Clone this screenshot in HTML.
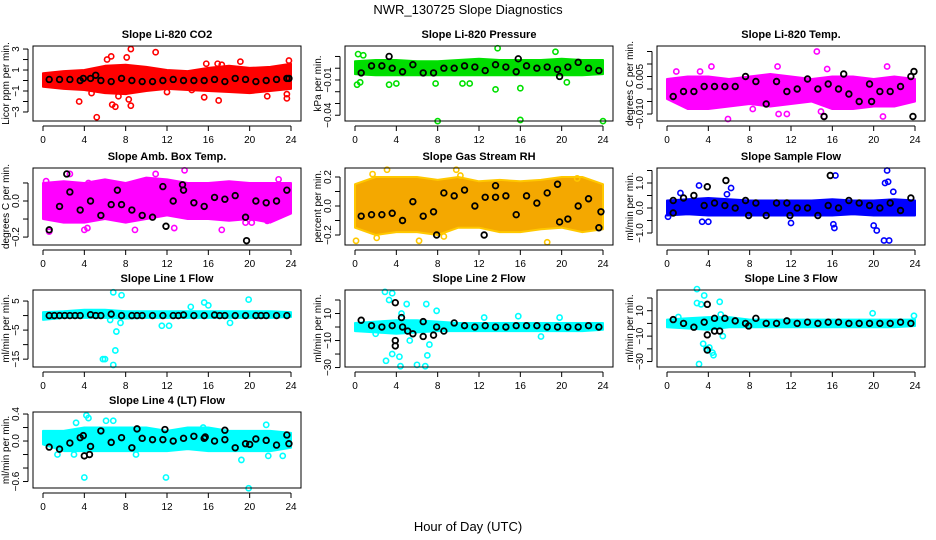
<!DOCTYPE html>
<html><head><meta charset="utf-8">
<style>
html,body{margin:0;padding:0;background:#fff;}
svg{display:block;font-family:"Liberation Sans",Arial,sans-serif;}
</style></head>
<body>
<svg id="chart" width="936" height="540" viewBox="0 0 936 540" xmlns="http://www.w3.org/2000/svg">
<text x="468" y="14" text-anchor="middle" font-size="13">NWR_130725  Slope Diagnostics</text>
<text x="468" y="531" text-anchor="middle" font-size="13">Hour of Day (UTC)</text>
</svg>
<script>
// ---- shared data ----
const xTicks = [0,4,8,12,16,20,24];
const bandHours = [0,2,4,6,8,10,12,14,16,18,20,22,24];
const blackHours = [0.6,1.6,2.6,3.6,4.6,5.6,6.6,7.6,8.6,9.6,10.6,11.6,12.6,13.6,14.6,15.6,16.6,17.6,18.6,19.6,20.6,21.6,22.6,23.6];

// ---- CO2 ----
const co2Lo = [-0.6,-0.8,-0.9,-1.2,-1.3,-1.0,-0.8,-0.9,-1.0,-1.1,-1.2,-1.0,-0.8];
const co2Hi = [0.7,0.9,1.0,1.4,1.5,1.3,1.0,0.9,1.2,1.4,1.2,1.3,1.6];
const co2Out = [[5.2,-3.5],[3.5,-2],[6.7,-2.3],[7.0,-2.5],[8.5,-2.4],[8.5,3.0],[8.1,2.2],[6.2,2.0],[6.6,2.3],[10.9,2.7],[19.1,1.8],[15.8,1.6],[16.9,1.6],[17.3,1.5],[17.0,-1.9],[15.6,-1.6],[23.6,-1.7],[23.6,-1.3],[23.8,1.9],[4.7,-1.2],[7.3,-1.5],[8.3,-1.8],[12.0,-1.1],[21.7,-1.5],[14.4,-0.9]];
const co2Black = [0.1,0.1,0.1,0.0,0.2,0.0,-0.1,0.2,0.0,-0.1,-0.1,0.0,0.1,0.0,0.0,0.0,0.1,-0.1,0.2,0.1,-0.1,0.0,0.1,0.2];
const co2BlackExtra = [[3.9,0.2],[5.1,0.5],[23.8,0.2]];
const co2Ticks = [-3,-2,-1,0,1,2,3];
const co2Labels = [-3,-1,1,3];

// ---- Pressure ----
const prLo = [-0.005,-0.006,-0.006,-0.006,-0.006,-0.006,-0.006,-0.006,-0.006,-0.006,-0.006,-0.006,-0.005];
const prHi = [0.006,0.007,0.007,0.006,0.006,0.007,0.008,0.007,0.007,0.007,0.008,0.007,0.007];
const prOut = [[0.3,0.012],[0.8,0.011],[0.5,-0.012],[0.2,-0.014],[3.3,-0.014],[4,-0.013],[8,-0.045],[16,-0.044],[24,-0.045],[13.8,0.017],[13.6,-0.018],[16,-0.017],[7.8,-0.013],[10.4,-0.013],[19.4,0.014],[20.5,-0.012],[11.1,-0.013]];
const prBlack = [-0.004,0.002,0.002,0.000,-0.003,0.003,-0.004,-0.004,0.000,0.000,0.002,0.001,-0.002,0.003,0.001,-0.003,0.002,0.000,0.001,-0.001,0.001,0.005,0.000,-0.002];
const prBlackExtra = [[3.3,0.010],[19.8,-0.007],[15.8,0.008]];
const prTicks = [-0.04,-0.03,-0.02,-0.01,0.0,0.01];
const prLabels = [-0.04,-0.01];

// ---- Li-820 Temp ----
const ltLo = [-0.004,-0.008,-0.008,-0.007,-0.006,-0.007,-0.006,-0.005,-0.008,-0.008,-0.007,-0.007,-0.005];
const ltHi = [0.004,0.005,0.005,0.004,0.005,0.006,0.005,0.004,0.005,0.005,0.004,0.005,0.004];
const ltOut = [[5.9,-0.012],[4.3,0.009],[14.5,0.015],[21.3,0.009],[10.7,0.009],[15.5,0.008],[3.2,0.007],[0.9,0.007],[15.2,-0.011],[20.9,-0.011],[14.9,-0.009],[11.6,-0.010],[8.3,-0.008],[10.8,-0.010]];
const ltBlack = [-0.003,-0.001,-0.001,0.001,0.001,0.001,0.001,0.005,0.003,-0.006,0.003,-0.001,0.000,0.004,0.000,0.002,0.000,-0.002,-0.005,0.002,-0.001,-0.001,0.001,0.005];
const ltBlackExtra = [[15.2,-0.011],[23.8,-0.011],[17.1,0.006],[23.9,0.007],[19.8,-0.005]];
const ltTicks = [-0.010,-0.005,0.000,0.005,0.010,0.015];
const ltLabels = ["-0.010","0.005"];

// ---- Amb Box Temp ----
const abLo = [-0.1,-0.12,-0.12,-0.1,-0.12,-0.1,-0.08,-0.1,-0.1,-0.11,-0.1,-0.12,-0.07];
const abHi = [0.1,0.11,0.1,0.12,0.1,0.13,0.12,0.1,0.1,0.11,0.1,0.1,0.1];
const abOut = [[2.6,0.15],[10.9,0.15],[13.7,0.17],[22.8,0.12],[0.3,0.11],[4.4,0.1],[0.6,-0.17],[4.0,-0.16],[8.9,-0.16],[12.7,-0.15],[17.3,-0.16],[19.6,-0.12],[20.2,-0.12],[21.7,-0.11],[4.3,-0.15]];
const abBlack = [-0.16,-0.03,0.05,-0.05,0.00,-0.08,-0.02,-0.02,-0.05,-0.08,-0.09,0.08,0.00,0.06,-0.01,-0.03,0.02,0.01,0.03,-0.09,0.00,-0.01,0.00,0.06];
const abBlackExtra = [[2.3,0.15],[19.7,-0.22],[11.9,-0.14],[7.2,0.06],[13.5,0.09]];
const abTicks = [-0.2,-0.1,0.0,0.1];
const abLabels = ["-0.2","0.0"];

// ---- Gas Stream RH ----
const rhLo = [-0.15,-0.2,-0.18,-0.18,-0.2,-0.15,-0.15,-0.18,-0.18,-0.16,-0.15,-0.18,-0.16];
const rhHi = [0.15,0.2,0.2,0.2,0.18,0.2,0.17,0.18,0.17,0.18,0.2,0.2,0.15];
const rhOut = [[3.1,0.25],[1.7,0.22],[9.8,0.25],[10.2,0.21],[0.1,-0.24],[6.2,-0.24],[18.6,-0.25],[8.6,-0.21],[2.1,-0.22],[21.5,0.19]];
const rhBlack = [-0.07,-0.06,-0.06,-0.05,-0.1,0.03,-0.07,-0.04,0.09,0.07,0.11,0.00,0.06,0.14,0.07,-0.06,0.07,0.02,0.09,0.15,-0.09,0.00,0.05,-0.15];
const rhBlackExtra = [[7.9,-0.2],[12.5,-0.2],[19.8,-0.11],[13.6,0.06],[23.8,-0.04]];
const rhTicks = [-0.2,-0.1,0.0,0.1,0.2];
const rhLabels = ["-0.2","0.0","0.2"];

// ---- Sample Flow ----
const sfLo = [-0.3,-0.25,-0.3,-0.3,-0.3,-0.3,-0.3,-0.3,-0.3,-0.25,-0.3,-0.3,-0.3];
const sfHi = [0.3,0.35,0.4,0.35,0.3,0.3,0.3,0.3,0.35,0.3,0.3,0.35,0.3];
const sfOut = [[3.1,0.9],[6.2,0.8],[1.3,0.6],[16.3,1.3],[21.3,1.5],[21.1,1.0],[21.4,1.05],[21.9,0.65],[20.0,-0.7],[20.3,-0.9],[21.0,-1.3],[21.5,-1.3],[16.1,-0.65],[16.2,-0.8],[4.0,-0.55],[3.4,-0.55],[12.0,-0.6],[5.8,0.55],[0.1,-0.35]];
const sfBlack = [0.3,0.4,0.5,0.1,0.2,0.1,0.0,0.3,0.2,-0.3,0.2,0.2,0.0,0.0,-0.3,0.1,0.0,0.3,0.2,0.1,0.0,0.2,-0.1,0.4];
const sfBlackExtra = [[3.9,0.85],[5.7,1.1],[15.8,1.3],[7.9,-0.3],[11.9,-0.3],[0.6,-0.2]];
const sfTicks = [-1.0,-0.5,0.0,0.5,1.0,1.5];
const sfLabels = ["-1.0","0.0","1.0"];

// ---- Line 1 ----
const l1Lo = [-1.5,-0.8,-0.8,-0.8,-1,-0.8,-0.8,-0.8,-0.8,-0.8,-0.8,-0.8,-0.5];
const l1Hi = [1.2,1.5,2,2,1.5,1.5,1.5,1.5,1.5,1.5,1.5,1.5,1.2];
const l1Out = [[6.8,8],[7.6,7],[5.8,-15],[6.0,-15],[6.8,-17],[7.0,-12],[7.1,-5.5],[7.5,-2.5],[11.5,-3.5],[12.2,-3.5],[15.6,4.5],[16.0,3.5],[19.9,5.5],[18.1,-2.5],[14.3,3],[6.5,-1.5]];
const l1Black = [0,0,0,0,0.3,0,0.5,0,0,0,0,0,0,0.2,0,0,0.2,0,0,0,0,0,0,0];
const l1BlackExtra = [[1.1,0],[2.1,0],[3.1,0],[5.1,0],[9.1,0],[13.1,0],[17.1,0],[21.1,0]];
const l1Ticks = [-15,-10,-5,0,5];
const l1Labels = [-15,-5,5];

// ---- Line 2 ----
const l2Lo = [-3,-4,-5,-4,-3,-3,-3,-3,-3,-3,-3,-3,-2];
const l2Hi = [3,4,5,5,4,3,3,3,3,3,3,3,3];
const l2Out = [[2.9,26],[3.3,20],[3.6,25],[5.0,17],[6.9,17],[7.9,12],[3.6,-20],[3.0,-25],[4.3,-22],[4.4,-29],[6.0,-28],[6.8,-29],[7.0,-21],[7.2,-13],[5.3,-10],[4.5,10],[15.8,8],[12.5,7],[19.8,7],[18.0,-7],[2,-5]];
const l2Black = [5,1,0,1,0,-5,-7,-6,-3,3,1,0,1,0,0,1,1,1,0,0,0,0,1,0];
const l2BlackExtra = [[3.9,18],[3.9,-14],[3.9,-10],[4.5,7],[5.1,-3],[6.6,4],[7.9,0]];
const l2Ticks = [-30,-20,-10,0,10,20];
const l2Labels = [-30,-10,10];

// ---- Line 3 ----
const l3Lo = [-3,-4,-5,-3,-3,-3,-3,-3,-3,-3,-3,-3,-2];
const l3Hi = [3,4,5,5,3,3,3,3,3,3,3,3,3];
const l3Out = [[2.9,27],[3.6,22],[2.9,16],[3.3,15],[5.1,17],[5.2,7],[3.5,-16],[3.8,-20],[4.1,-19],[4.5,-25],[4.4,-23],[3.1,-32],[5.4,-10],[19.9,8],[23.9,6],[1.1,5]];
const l3Black = [3,0,-3,1,-6,4,2,0,4,0,0,2,0,1,0,1,1,0,0,0,0,0,1,0];
const l3BlackExtra = [[3.9,15],[3.9,-21],[3.9,-9],[5.1,-6],[4.6,4],[7.9,-2]];
const l3Ticks = [-30,-20,-10,0,10,20];
const l3Labels = [-30,-10,10];

// ---- Line 4 ----
const l4Lo = [-0.05,-0.15,-0.15,-0.15,-0.15,-0.15,-0.15,-0.12,-0.15,-0.15,-0.15,-0.15,-0.1];
const l4Hi = [0.15,0.15,0.2,0.2,0.2,0.2,0.15,0.2,0.2,0.15,0.15,0.15,0.12];
const l4Out = [[4.0,-0.54],[11.9,-0.54],[19.9,-0.7],[4.2,0.38],[4.4,0.34],[6.1,0.3],[6.8,0.3],[3.2,0.27],[21.6,0.24],[1.4,-0.2],[3.0,-0.2],[19.2,-0.28],[21.8,-0.22],[23.2,-0.22],[9.0,-0.2],[15.5,0.2]];
const l4Black = [-0.09,-0.12,-0.03,0.05,-0.08,0.15,-0.02,0.05,-0.1,0.04,0.02,0.02,0.0,0.04,0.07,0.04,0.0,0.02,-0.1,-0.04,0.03,0.01,-0.06,0.09];
const l4BlackExtra = [[4.0,-0.22],[4.5,-0.2],[3.9,0.08],[9.1,0.18],[11.8,0.17],[15.7,0.06],[17.6,0.16],[23.8,-0.04],[20.0,-0.05]];
const l4Ticks = [-0.6,-0.4,-0.2,0.0,0.2,0.4];
const l4Labels = ["-0.6","0.0","0.4"];

const NS = "http://www.w3.org/2000/svg";
const svg = document.getElementById("chart");
function mk(tag, attrs, parent){
  const e = document.createElementNS(NS, tag);
  for (const k in attrs) e.setAttribute(k, attrs[k]);
  (parent||svg).appendChild(e);
  return e;
}

const panels = [
  {key:"co2",title:"Slope Li-820 CO2",ylab:"Licor ppm per min.",col:0,row:0,ymin:-3.86,ymax:3.29,color:"#ff0000",fill:"#ff0000",lo:co2Lo,hi:co2Hi,out:co2Out,black:co2Black,extra:co2BlackExtra,ticks:co2Ticks,labels:co2Labels},
  {key:"pressure",title:"Slope Li-820 Pressure",ylab:"kPa per min.",col:1,row:0,ymin:-0.0449,ymax:0.0189,color:"#00e000",fill:"#00dd00",lo:prLo,hi:prHi,out:prOut,black:prBlack,extra:prBlackExtra,ticks:prTicks,labels:prLabels},
  {key:"li820-temp",title:"Slope Li-820 Temp.",ylab:"degrees C per min.",col:2,row:0,ymin:-0.0128,ymax:0.0172,color:"#ff00ff",fill:"#ff00ff",lo:ltLo,hi:ltHi,out:ltOut,black:ltBlack,extra:ltBlackExtra,ticks:ltTicks,labels:ltLabels},
  {key:"amb-box-temp",title:"Slope Amb. Box Temp.",ylab:"degrees C per min.",col:0,row:1,ymin:-0.244,ymax:0.183,color:"#ff00ff",fill:"#ff00ff",lo:abLo,hi:abHi,out:abOut,black:abBlack,extra:abBlackExtra,ticks:abTicks,labels:abLabels},
  {key:"gas-stream-rh",title:"Slope Gas Stream RH",ylab:"percent per min.",col:1,row:1,ymin:-0.269,ymax:0.262,color:"#ffc800",fill:"#f4a800",lo:rhLo,hi:rhHi,out:rhOut,black:rhBlack,extra:rhBlackExtra,ticks:rhTicks,labels:rhLabels},
  {key:"sample-flow",title:"Slope Sample Flow",ylab:"ml/min per min.",col:2,row:1,ymin:-1.48,ymax:1.6,color:"#0000ff",fill:"#0000ff",lo:sfLo,hi:sfHi,out:sfOut,black:sfBlack,extra:sfBlackExtra,ticks:sfTicks,labels:sfLabels},
  {key:"line1-flow",title:"Slope Line 1 Flow",ylab:"ml/min per min.",col:0,row:2,ymin:-17.7,ymax:8.8,color:"#00ffff",fill:"#00ffff",lo:l1Lo,hi:l1Hi,out:l1Out,black:l1Black,extra:l1BlackExtra,ticks:l1Ticks,labels:l1Labels},
  {key:"line2-flow",title:"Slope Line 2 Flow",ylab:"ml/min per min.",col:1,row:2,ymin:-29.6,ymax:27.4,color:"#00ffff",fill:"#00ffff",lo:l2Lo,hi:l2Hi,out:l2Out,black:l2Black,extra:l2BlackExtra,ticks:l2Ticks,labels:l2Labels},
  {key:"line3-flow",title:"Slope Line 3 Flow",ylab:"ml/min per min.",col:2,row:2,ymin:-34.3,ymax:26.3,color:"#00ffff",fill:"#00ffff",lo:l3Lo,hi:l3Hi,out:l3Out,black:l3Black,extra:l3BlackExtra,ticks:l3Ticks,labels:l3Labels},
  {key:"line4-flow",title:"Slope Line 4 (LT) Flow",ylab:"ml/min per min.",col:0,row:3,ymin:-0.696,ymax:0.43,color:"#00ffff",fill:"#00ffff",lo:l4Lo,hi:l4Hi,out:l4Out,black:l4Black,extra:l4BlackExtra,ticks:l4Ticks,labels:l4Labels}
];

const colLeft = [33,345,657];
const rowTop = [46,168,290,412];
const rowBot = [121,245,367,488];
const boxW = 268;

panels.forEach(p => {
  const L = colLeft[p.col], T = rowTop[p.row], B = rowBot[p.row];
  const xs = h => L + 10 + h * (248/24);
  const ys = v => B - (v - p.ymin) / (p.ymax - p.ymin) * (B - T);
  const g = mk("g", {});
  
  

  const title = mk("text", {x: L + boxW/2, y: T - 8, "text-anchor":"middle", "font-size":"11", "font-weight":"bold"}, g);
  
  
  title.textContent = p.title;

  let d = "";
  p.lo.forEach((v,i) => { d += (i ? "L" : "M") + xs(bandHours[i]).toFixed(1) + "," + ys(p.hi[i]).toFixed(1); });
  for (let i = p.lo.length - 1; i >= 0; i--) d += "L" + xs(bandHours[i]).toFixed(1) + "," + ys(p.lo[i]).toFixed(1);
  d += "Z";
  const band = mk("path", {d: d, fill: p.fill, stroke: p.color, "stroke-width": "2", "stroke-linejoin":"round"}, g);
  
  

  p.out.forEach(pt => {
    const c = mk("circle", {cx: xs(pt[0]), cy: ys(pt[1]), r: 2.6, fill: "none", stroke: p.color, "stroke-width": 1.6}, g);
    
    
  });

  const blacks = p.black.map((v,i) => [blackHours[i], v]).concat(p.extra);
  blacks.forEach(pt => {
    const c = mk("circle", {cx: xs(pt[0]), cy: ys(pt[1]), r: 2.8, fill: "none", stroke: "#000", "stroke-width": 1.8}, g);
    
    
  });

  const box = mk("rect", {x: L, y: T, width: boxW, height: B - T, fill: "none", stroke: "#000", "stroke-width": 1}, g);
  
  

  const xa = mk("line", {x1: xs(xTicks[0]), x2: xs(xTicks[xTicks.length-1]), y1: B + 5, y2: B + 5, stroke: "#000"}, g);
  
  
  xTicks.forEach(t => {
    mk("line", {x1: xs(t), x2: xs(t), y1: B + 5, y2: B + 10, stroke: "#000"}, g);
    const tl = mk("text", {x: xs(t), y: B + 22, "text-anchor": "middle", "font-size": "10"}, g);
    
    
    tl.textContent = t;
  });

  const ax = L - 5;
  const ya = mk("line", {x1: ax, x2: ax, y1: ys(p.ticks[0]), y2: ys(p.ticks[p.ticks.length-1]), stroke: "#000"}, g);
  
  
  p.ticks.forEach(t => mk("line", {x1: ax - 5, x2: ax, y1: ys(t), y2: ys(t), stroke: "#000"}, g));
  p.labels.forEach(lab => {
    const y = ys(parseFloat(lab));
    const tl = mk("text", {x: 0, y: 0, "text-anchor": "middle", "font-size": "10", transform: "translate(" + (L - 14) + "," + y + ") rotate(-90)"}, g);
    
    
    tl.textContent = String(lab).replace("-", "\u2212");
  });
  const yl = mk("text", {x: 0, y: 0, "text-anchor": "middle", "font-size": "10", transform: "translate(" + (L - 24) + "," + ((T + B) / 2) + ") rotate(-90)"}, g);
  
  
  yl.textContent = p.ylab;
});
</script>
</body></html>
